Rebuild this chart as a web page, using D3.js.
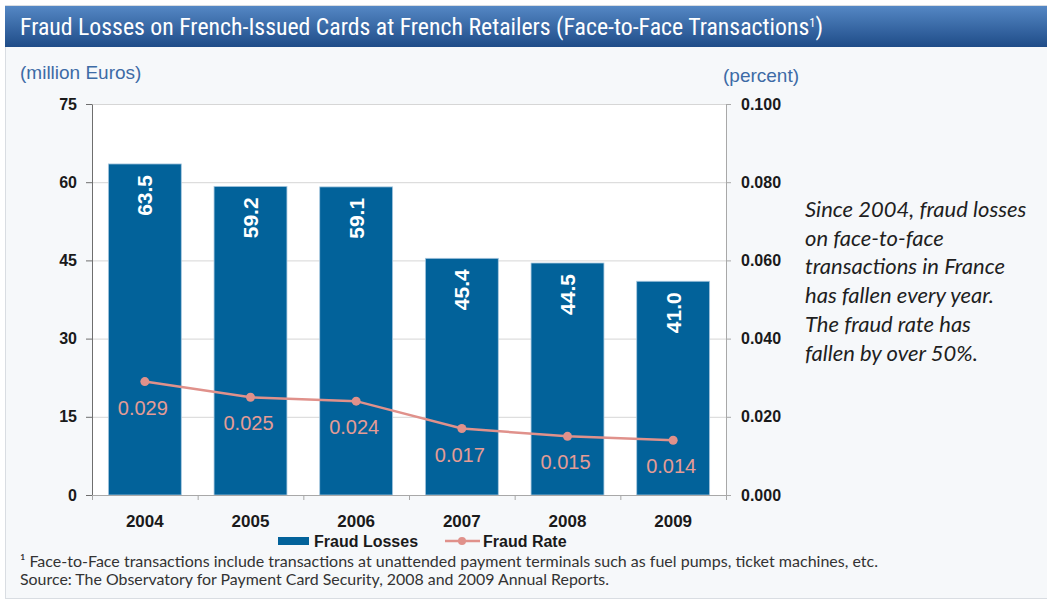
<!DOCTYPE html>
<meta charset="utf-8" />
<head>
  <script src="https://d3js.org/d3.v7.min.js"></script>
  <title>Fraud Losses</title>
  <style>
    body {
      margin: 0;
      background: #ffffff;
    }
    svg {
      display: block;
    }
    .axis text {
      font-family: "Liberation Sans", Arial, sans-serif;
      font-weight: bold;
      fill: #1a1a1a;
    }
    .axis--l path,
    .axis--l line {
      stroke: #6e6e6e;
    }
    .axis--r path,
    .axis--r line,
    .axis--x path,
    .axis--x line {
      stroke: #a8a8a8;
    }
    .grid line {
      stroke: #d6d6d6;
    }
    .grid path {
      display: none;
    }
  </style>
</head>
<body>
  <svg id="chart" width="1047" height="606"></svg>
</body>

<script>
  const years = ["2004", "2005", "2006", "2007", "2008", "2009"];
  const fraudLosses = [63.5, 59.2, 59.1, 45.4, 44.5, 41.0];
  const fraudRate = [0.029, 0.025, 0.024, 0.017, 0.015, 0.014];
  const lossTicks = [0, 15, 30, 45, 60, 75];
  const rateTicks = [0, 0.02, 0.04, 0.06, 0.08, 0.1];

  const titleText =
    "Fraud Losses on French-Issued Cards at French Retailers (Face-to-Face Transactions";
  const noteLines = [
    "Since 2004, fraud losses",
    "on face-to-face",
    "transactions in France",
    "has fallen every year.",
    "The fraud rate has",
    "fallen by over 50%.",
  ];
  const footnotes = [
    "\u00b9 Face-to-Face transactions include transactions at unattended payment terminals such as fuel pumps, ticket machines, etc.",
    "Source: The Observatory for Payment Card Security, 2008 and 2009 Annual Reports.",
  ];

  const data = years.map((year, i) => ({
    year,
    loss: fraudLosses[i],
    rate: fraudRate[i],
  }));

  const svg = d3.select("#chart");
  const margin = { top: 104, right: 321, bottom: 111, left: 92 };
  const width = +svg.attr("width");
  const height = +svg.attr("height");
  const plotW = width - margin.left - margin.right;
  const plotB = height - margin.bottom;

  // panel + title bar
  const defs = svg.append("defs");
  const grad = defs
    .append("linearGradient")
    .attr("id", "titleGrad")
    .attr("x1", 0)
    .attr("y1", 0)
    .attr("x2", 0)
    .attr("y2", 1);
  grad.append("stop").attr("offset", "0%").attr("stop-color", "#5487c4");
  grad.append("stop").attr("offset", "100%").attr("stop-color", "#1f4c88");

  svg
    .append("rect")
    .attr("x", 5.5)
    .attr("y", 5.5)
    .attr("width", width)
    .attr("height", 593)
    .attr("fill", "#f6f8fa")
    .attr("stroke", "#d9dde2");

  svg
    .append("rect")
    .attr("x", 5)
    .attr("y", 6)
    .attr("width", width)
    .attr("height", 41)
    .attr("fill", "url(#titleGrad)");

  const title = svg
    .append("text")
    .attr("x", 20)
    .attr("y", 35)
    .attr("fill", "#ffffff")
    .style("font-family", "'Liberation Sans Narrow', 'Roboto Condensed', 'Liberation Sans', sans-serif")
    .style("font-size", "23px")
    .attr("textLength", 803)
    .attr("lengthAdjust", "spacingAndGlyphs");
  title.append("tspan").text(titleText);
  title.append("tspan").attr("dy", -8).style("font-size", "12px").text("1");
  title.append("tspan").attr("dy", 8).text(")");

  // scales
  const x = d3
    .scaleBand()
    .domain(years)
    .range([margin.left, margin.left + plotW])
    .paddingInner(0.31)
    .paddingOuter(0.155);

  const xEdge = d3
    .scalePoint()
    .domain(d3.range(years.length + 1))
    .range([margin.left, margin.left + plotW]);

  const yL = d3.scaleLinear().domain([0, 75]).range([plotB, margin.top]);
  const yR = d3.scaleLinear().domain([0, 0.1]).range([plotB, margin.top]);

  // plot background
  svg
    .append("rect")
    .attr("x", margin.left)
    .attr("y", margin.top)
    .attr("width", plotW)
    .attr("height", plotB - margin.top)
    .attr("fill", "#ffffff");

  svg
    .append("g")
    .attr("class", "grid")
    .attr("transform", `translate(${margin.left},0)`)
    .call(
      d3
        .axisLeft(yL)
        .tickValues(lossTicks.slice(1))
        .tickSize(-plotW)
        .tickFormat("")
    );

  // bars
  svg
    .append("g")
    .selectAll("rect")
    .data(data)
    .enter()
    .append("rect")
    .attr("x", (d) => x(d.year))
    .attr("y", (d) => yL(d.loss))
    .attr("width", x.bandwidth())
    .attr("height", (d) => plotB - yL(d.loss))
    .attr("fill", "#02629a")
    .attr("stroke", "#a9c8df")
    .attr("stroke-width", 0.8);

  svg
    .append("g")
    .selectAll("text")
    .data(data)
    .enter()
    .append("text")
    .attr(
      "transform",
      (d) =>
        `translate(${x(d.year) + x.bandwidth() / 2},${yL(d.loss) + 11}) rotate(-90)`
    )
    .attr("text-anchor", "end")
    .attr("dy", "0.36em")
    .attr("fill", "#ffffff")
    .style("font-family", "'Liberation Sans', Arial, sans-serif")
    .style("font-weight", "bold")
    .style("font-size", "21px")
    .text((d) => d.loss.toFixed(1));

  // axes
  svg
    .append("g")
    .attr("class", "axis axis--l")
    .attr("transform", `translate(${margin.left},0)`)
    .call(
      d3
        .axisLeft(yL)
        .tickValues(lossTicks)
        .tickSize(6)
        .tickSizeOuter(0)
        .tickPadding(9)
    )
    .selectAll("text")
    .style("font-size", "16px");

  svg
    .append("g")
    .attr("class", "axis axis--r")
    .attr("transform", `translate(${margin.left + plotW},0)`)
    .call(
      d3
        .axisRight(yR)
        .tickValues(rateTicks)
        .tickFormat(d3.format(".3f"))
        .tickSize(5)
        .tickSizeOuter(0)
        .tickPadding(10)
    )
    .selectAll("text")
    .style("font-size", "16px");

  svg
    .append("g")
    .attr("class", "axis axis--x")
    .attr("transform", `translate(0,${plotB})`)
    .call(d3.axisBottom(xEdge).tickSize(5).tickSizeOuter(0).tickFormat(""));

  svg
    .append("g")
    .attr("class", "axis")
    .selectAll("text")
    .data(years)
    .enter()
    .append("text")
    .attr("x", (d) => x(d) + x.bandwidth() / 2)
    .attr("y", plotB + 26)
    .attr("dy", "0.35em")
    .attr("text-anchor", "middle")
    .style("font-size", "17px")
    .text((d) => d);

  // fraud rate line
  const line = d3
    .line()
    .x((d) => x(d.year) + x.bandwidth() / 2)
    .y((d) => yR(d.rate));

  svg
    .append("path")
    .datum(data)
    .attr("fill", "none")
    .attr("stroke", "#e0918b")
    .attr("stroke-width", 2.5)
    .attr("d", line);

  svg
    .append("g")
    .selectAll("circle")
    .data(data)
    .enter()
    .append("circle")
    .attr("cx", (d) => x(d.year) + x.bandwidth() / 2)
    .attr("cy", (d) => yR(d.rate))
    .attr("r", 4.5)
    .attr("fill", "#e0918b");

  svg
    .append("g")
    .selectAll("text")
    .data(data)
    .enter()
    .append("text")
    .attr("x", (d) => x(d.year) + x.bandwidth() / 2 - 2)
    .attr("y", (d) => yR(d.rate) + 26)
    .attr("dy", "0.35em")
    .attr("text-anchor", "middle")
    .attr("fill", "#e59c95")
    .style("font-family", "'Liberation Sans', Arial, sans-serif")
    .style("font-size", "20px")
    .text((d) => d.rate.toFixed(3));

  // axis titles
  const unitStyle = (sel) =>
    sel
      .attr("fill", "#3d6ba6")
      .style("font-family", "'Liberation Sans', Arial, sans-serif")
      .style("font-size", "19px");

  svg
    .append("text")
    .attr("x", 20)
    .attr("y", 79)
    .text("(million Euros)")
    .call(unitStyle);

  svg
    .append("text")
    .attr("x", 723)
    .attr("y", 82)
    .text("(percent)")
    .call(unitStyle);

  // annotation
  svg
    .append("g")
    .selectAll("text")
    .data(noteLines)
    .enter()
    .append("text")
    .attr("x", 805)
    .attr("y", (d, i) => 217 + i * 28.7)
    .attr("fill", "#1f1f1f")
    .style("font-family", "Lato, 'Open Sans', sans-serif")
    .style("font-style", "italic")
    .style("font-size", "22px")
    .text((d) => d);

  // legend
  const legend = svg.append("g").attr("class", "legend");
  legend
    .append("rect")
    .attr("x", 278)
    .attr("y", 537)
    .attr("width", 31)
    .attr("height", 8)
    .attr("fill", "#02629a");
  legend
    .append("text")
    .attr("x", 314)
    .attr("y", 541)
    .attr("dy", "0.35em")
    .text("Fraud Losses");
  legend
    .append("line")
    .attr("x1", 445)
    .attr("x2", 480)
    .attr("y1", 541)
    .attr("y2", 541)
    .attr("stroke", "#e0918b")
    .attr("stroke-width", 2.5);
  legend
    .append("circle")
    .attr("cx", 462)
    .attr("cy", 541)
    .attr("r", 4)
    .attr("fill", "#e0918b");
  legend
    .append("text")
    .attr("x", 483)
    .attr("y", 541)
    .attr("dy", "0.35em")
    .text("Fraud Rate");
  legend
    .selectAll("text")
    .attr("fill", "#1a1a1a")
    .style("font-family", "'Liberation Sans', Arial, sans-serif")
    .style("font-weight", "bold")
    .style("font-size", "16px");

  // footnotes
  svg
    .append("g")
    .selectAll("text")
    .data(footnotes)
    .enter()
    .append("text")
    .attr("x", 20)
    .attr("y", (d, i) => 567 + i * 18)
    .attr("fill", "#333333")
    .style("font-family", "Lato, 'Open Sans', sans-serif")
    .style("font-size", "15px")
    .attr("textLength", (d, i) => (i === 0 ? 858 : 589))
    .attr("lengthAdjust", "spacingAndGlyphs")
    .text((d) => d);
</script>
